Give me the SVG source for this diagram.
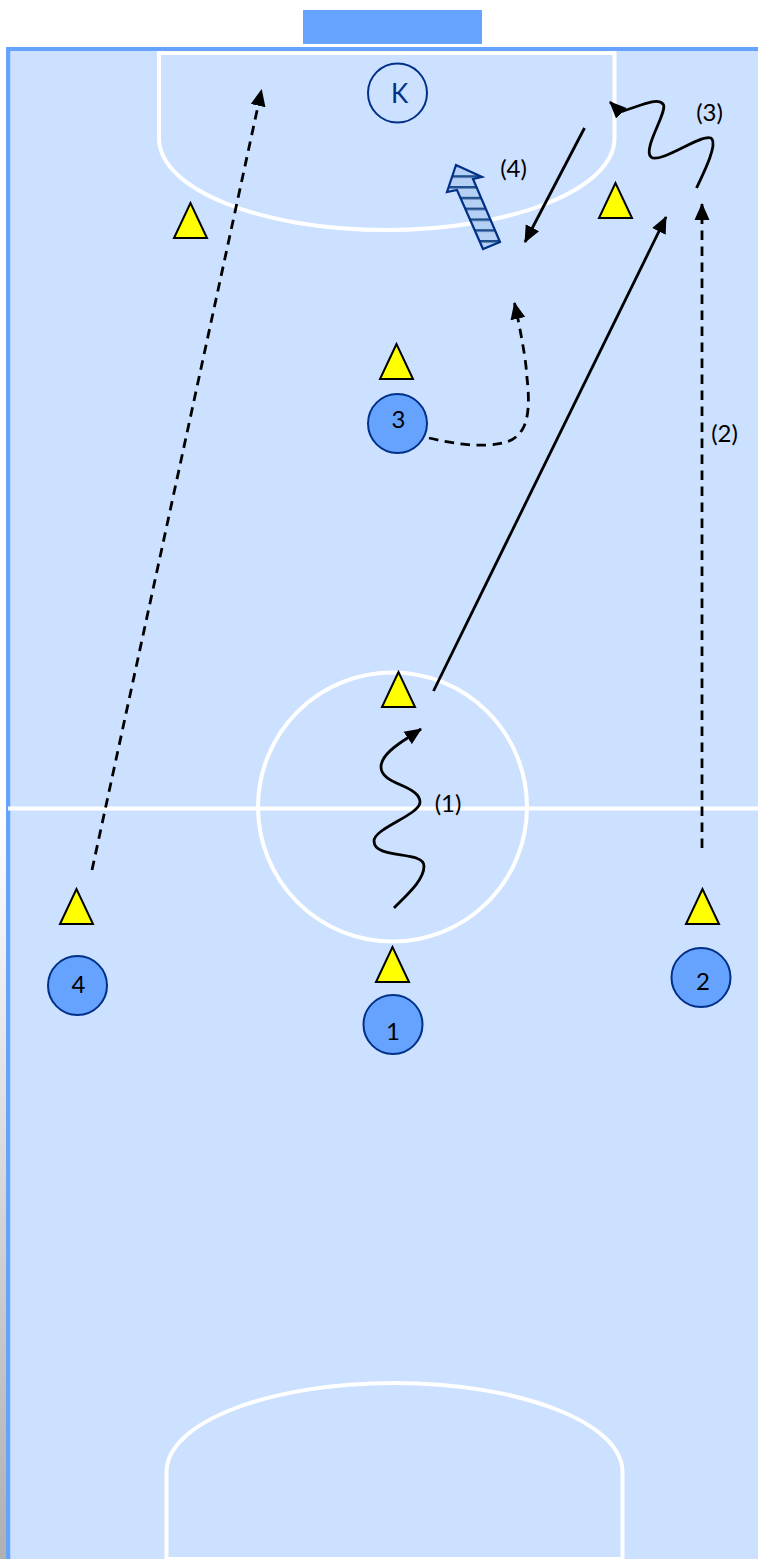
<svg xmlns="http://www.w3.org/2000/svg" width="758" height="1559" viewBox="0 0 758 1559">
<style>
.court{fill:none;stroke:#fff;stroke-width:4}
.p{fill:#66a3ff;stroke:#003087;stroke-width:2}
.c{fill:#ffff00;stroke:#000;stroke-width:2}
.l{fill:none;stroke:#000;stroke-width:2.800}
.d{stroke-dasharray:9.500 6.500}
text{font-family:Lato,"Open Sans",sans-serif;font-size:24px;fill:#000;text-anchor:middle}
</style>
<defs>
<linearGradient id="edge" x1="0" y1="0" x2="0" y2="1"><stop offset="0" stop-color="#fff"/><stop offset="0.500" stop-color="#fff"/><stop offset="1" stop-color="#b0b0b0"/></linearGradient>
<pattern id="hatch" x="0" y="186" width="8" height="10.800" patternUnits="userSpaceOnUse"><rect width="8" height="10.800" fill="#b5d0f5"/><rect y="0" width="8" height="2.500" fill="#1f4e8c"/></pattern>
<marker id="a" markerWidth="18" markerHeight="16" refX="16" refY="8" orient="auto" markerUnits="userSpaceOnUse"><path d="M0 0.500L17 8L0 15.500z" fill="#000"/></marker>
</defs>
<rect x="0" y="47" width="7" height="1512" fill="url(#edge)"/>
<rect x="6" y="47" width="752" height="1512" fill="#cce0ff"/>
<rect x="10" y="51" width="1" height="1508" fill="#b3d1ff"/>
<path d="M8 1559V49H758" fill="none" stroke="#66a3ff" stroke-width="4"/>
<rect id="goal" x="303" y="10" width="179" height="34" fill="#66a3ff"/>
<g id="court">
<path class="court" d="M159 53H614.500V138C614.500 190 510 230 386 230C262 230 159 190 159 138Z"/>
<path class="court" d="M166.500 1559V1472C166.500 1422 270 1383 394 1383C518 1383 622.500 1422 622.500 1472V1559Z"/>
<path class="court" d="M8 808.500H758"/>
<circle class="court" cx="392.500" cy="807" r="134.500"/>
</g>
<g id="connectors">
<path class="l d" d="M92 870L261.500 90" marker-end="url(#a)"/>
<path class="l d" d="M702 848V204" marker-end="url(#a)"/>
<path class="l" d="M433.500 691L666 217" marker-end="url(#a)"/>
<path class="l" d="M584.500 128L525 242" marker-end="url(#a)"/>
<path class="l d" d="M429 438C450 443 470 446 487 445C505 444 515 441 522 430C530 418 529 395 527 378C526 360 522 340 518 319L514.500 303" marker-end="url(#a)"/>
<path class="l" d="M394 908C408 894 424 880 424 866C424 850 374 860 374 841C374 828 420 815 420 802C420 785 381 785 381 767C381 755 398 744 409 737L421 729" marker-end="url(#a)"/>
<path class="l" d="M696.500 188C704 172 717 146 712 139C706 130 660 165 651 157C642 149 669 110 663 104C657 97 640 106 620 112L610 102" marker-end="url(#a)"/>
</g>
<g id="move4"><path d="M500 242L483 249L457 190L447 192L456 165L482 177L473 179Z" fill="url(#hatch)" stroke="#003087" stroke-width="2.200"/></g>
<g id="cones">
<polygon class="c" points="190.500,203 174,238 207,238"/>
<polygon class="c" points="615.500,183 599,218 632,218"/>
<polygon class="c" points="396.500,344 380,379 413,379"/>
<polygon class="c" points="398.500,672 382,707 415,707"/>
<polygon class="c" points="76.500,889 60,924 93,924"/>
<polygon class="c" points="702.500,889 686,924 719,924"/>
<polygon class="c" points="392.500,947 376,982 409,982"/>
</g>
<g id="K"><circle cx="397.500" cy="93" r="29.500" fill="#cce0ff" stroke="#003087" stroke-width="2"/><text x="399.500" y="103" style="font-size:26px;fill:#003087">K</text></g>
<g id="p3"><circle class="p" cx="397.500" cy="423.500" r="29.500"/><text x="398.500" y="428">3</text></g>
<g id="p4"><circle class="p" cx="77.500" cy="985.500" r="29.500"/><text x="78.500" y="993">4</text></g>
<g id="p1"><circle class="p" cx="393" cy="1024.500" r="29.500"/><text x="393" y="1040">1</text></g>
<g id="p2"><circle class="p" cx="701" cy="977.500" r="29.500"/><text x="703" y="990">2</text></g>
<g id="labels">
<text x="448" y="812">(1)</text>
<text x="724.500" y="442">(2)</text>
<text x="709.500" y="121">(3)</text>
<text x="513.500" y="177">(4)</text>
</g>
</svg>
